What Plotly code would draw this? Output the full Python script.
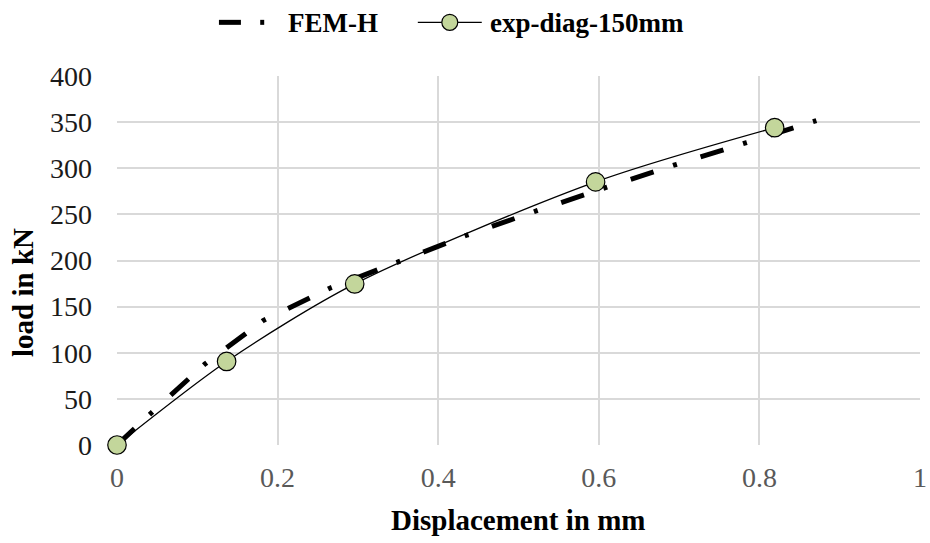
import plotly.graph_objects as go

# Finite element prediction (FEM-H)
fem_disp = [0.0, 0.0423, 0.1095, 0.182, 0.265, 0.351, 0.436, 0.523, 0.610, 0.697, 0.784, 0.871]
fem_load = [0.0, 34.4, 87.8, 134.9, 170.0, 198.7, 227.6, 254.0, 279.5, 304.3, 327.8, 351.6]

# Experimental measurement, diagonal gauge 150 mm
exp_disp = [0.0, 0.1365, 0.296, 0.596, 0.819]
exp_load = [0.0, 90.6, 174.6, 285.2, 344.0]

x_ticks = [0, 0.2, 0.4, 0.6, 0.8, 1]
x_tick_text = ["0", "0.2", "0.4", "0.6", "0.8", "1"]
y_ticks = [0, 50, 100, 150, 200, 250, 300, 350, 400]

W, H = 930, 543
ML, MR, MT, MB = 117, 9.5, 75.5, 97.5
PW, PH = W - ML - MR, H - MT - MB

FONT = "Liberation Serif, Times New Roman, serif"
GREEN = "#C3D69B"
GRID = "#D9D9D9"


def px_x(p):
    return (p - ML) / PW


def px_y(p):
    return (H - MB - p) / PH


fig = go.Figure()

fig.add_trace(go.Scatter(
    x=fem_disp, y=fem_load, mode="lines", name="FEM-H",
    line=dict(color="black", width=5, dash="24px,20.5px,4px,24.8px", simplify=False),
    showlegend=False, cliponaxis=False,
))

fig.add_trace(go.Scatter(
    x=exp_disp, y=exp_load, mode="lines+markers", name="exp-diag-150mm",
    line=dict(color="black", width=1.3, shape="spline", smoothing=0.8),
    marker=dict(size=18.5, color=GREEN, line=dict(color="black", width=1.2)),
    showlegend=False, cliponaxis=False,
))

# legend keys drawn in pixel positions above the plot
shapes = [
    dict(type="line", xref="paper", yref="paper",
         x0=px_x(219), x1=px_x(241), y0=px_y(21.7), y1=px_y(21.7),
         line=dict(color="black", width=5)),
    dict(type="line", xref="paper", yref="paper",
         x0=px_x(260.3), x1=px_x(264.3), y0=px_y(21.7), y1=px_y(21.7),
         line=dict(color="black", width=5)),
    dict(type="line", xref="paper", yref="paper",
         x0=px_x(418), x1=px_x(482), y0=px_y(21.7), y1=px_y(21.7),
         line=dict(color="black", width=1.3)),
    dict(type="circle", xref="paper", yref="paper",
         xsizemode="pixel", ysizemode="pixel",
         xanchor=px_x(450), yanchor=px_y(21.7),
         x0=-8, x1=8, y0=-8, y1=8,
         fillcolor=GREEN, line=dict(color="black", width=1.2)),
]

annotations = [
    dict(text="<b>FEM-H</b>", xref="paper", yref="paper", x=px_x(286), y=px_y(22),
         xanchor="left", yanchor="middle", showarrow=False,
         font=dict(family=FONT, size=27, color="black")),
    dict(text="<b>exp-diag-150mm</b>", xref="paper", yref="paper", x=px_x(488), y=px_y(22),
         xanchor="left", yanchor="middle", showarrow=False,
         font=dict(family=FONT, size=27, color="black")),
    dict(text="<b>load in kN</b>", xref="paper", yref="paper", x=px_x(23), y=px_y(293),
         xanchor="center", yanchor="middle", textangle=-90, showarrow=False,
         font=dict(family=FONT, size=29, color="black")),
    dict(text="<b>Displacement in mm</b>", xref="paper", yref="paper", x=0.5, y=px_y(521),
         xanchor="center", yanchor="middle", showarrow=False,
         font=dict(family=FONT, size=29, color="black")),
]

fig.update_layout(
    width=W, height=H,
    margin=dict(l=ML, r=MR, t=MT, b=MB, pad=0, autoexpand=False),
    font=dict(family=FONT, size=28, color="black"),
    paper_bgcolor="white", plot_bgcolor="white",
    showlegend=False,
    shapes=shapes,
    annotations=annotations,
    xaxis=dict(
        range=[0, 1], tickvals=x_ticks, ticktext=x_tick_text,
        showgrid=True, gridcolor=GRID, gridwidth=1.5,
        showline=False, zeroline=False, ticks="", automargin=False,
        tickfont=dict(family=FONT, size=28, color="#595959"),
        ticklabelstandoff=13,
    ),
    yaxis=dict(
        range=[0, 400], tickvals=y_ticks,
        showgrid=True, gridcolor=GRID, gridwidth=1.5,
        showline=False, zeroline=False, ticks="", automargin=False,
        tickfont=dict(family=FONT, size=28, color="#1a1a1a"),
        ticklabelstandoff=24,
    ),
)

fig.write_html("out.html")
